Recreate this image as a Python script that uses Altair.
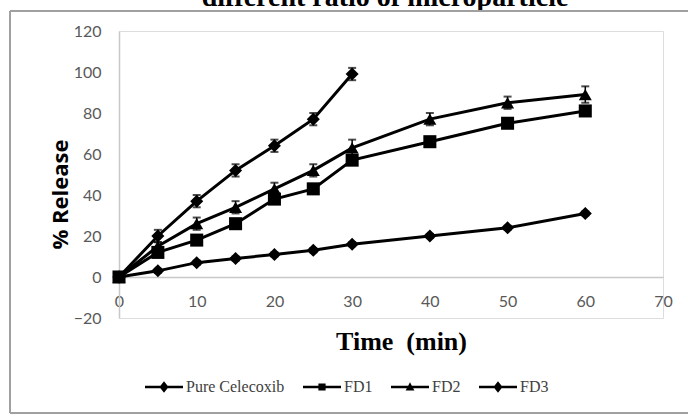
import altair as alt
import pandas as pd

# ---- data ----
series_names = ["Pure Celecoxib", "FD1", "FD2", "FD3"]
time_pure = [0, 5, 10, 15, 20, 25, 30]
time_fd = [0, 5, 10, 15, 20, 25, 30, 40, 50, 60]

pure_release = [0, 20, 37, 52, 64, 77, 99]
fd1_release = [0, 12, 18, 26, 38, 43, 57, 66, 75, 81]
fd2_release = [0, 15, 26, 34, 43, 52, 63, 77, 85, 89]
fd3_release = [0, 3, 7, 9, 11, 13, 16, 20, 24, 31]

pure_err = [0, 3, 3, 3, 3, 3, 3]
fd1_err = [0, 2, 2, 2, 2, 2, 2, 2, 2, 2]
fd2_err = [0, 2, 3, 3, 3, 3, 4, 3, 3, 4]
fd3_err = [0, 1, 1, 1, 1, 1, 1, 1, 1, 1]

marker_shapes = ["diamond", "square", "triangle-up", "diamond"]
x_ticks = [0, 10, 20, 30, 40, 50, 60, 70]
y_ticks = [-20, 0, 20, 40, 60, 80, 100, 120]
title_text = ["different ratio of microparticle"]

rows = []
for name, times, vals, errs, shp in zip(
    series_names,
    [time_pure, time_fd, time_fd, time_fd],
    [pure_release, fd1_release, fd2_release, fd3_release],
    [pure_err, fd1_err, fd2_err, fd3_err],
    marker_shapes,
):
    for t, v, e in zip(times, vals, errs):
        rows.append({"series": name, "time": t, "release": v,
                     "lo": v - e, "hi": v + e, "shape": shp})
df = pd.DataFrame(rows)

# legend symbols: line segment + marker in one path
legend_paths = [
    "M-1,-0.06L1,-0.06L1,0.06L-1,0.06Z M0,-0.3L0.24,0L0,0.3L-0.24,0Z",
    "M-1,-0.06L1,-0.06L1,0.06L-1,0.06Z M-0.19,-0.19L0.19,-0.19L0.19,0.19L-0.19,0.19Z",
    "M-1,-0.06L1,-0.06L1,0.06L-1,0.06Z M0,-0.25L0.23,0.18L-0.23,0.18Z",
    "M-1,-0.06L1,-0.06L1,0.06L-1,0.06Z M0,-0.3L0.24,0L0,0.3L-0.24,0Z",
]

X = alt.X("time:Q", scale=alt.Scale(domain=[0, 70], nice=False),
          axis=alt.Axis(values=x_ticks, title="Time\u00a0 (min)", offset=-41,
                        grid=False, ticks=False, domainColor="#c8c8c8",
                        domainWidth=1.5, labelColor="#595959", labelFont="Lato",
                        labelFontSize=16, labelPadding=16, labelFlush=False,
                        titleFont="Liberation Serif", titleFontSize=26,
                        titleFontWeight="bold", titleColor="black",
                        titleX=282, titleY=64, titleAnchor="middle",
                        titleAlign="center", titleBaseline="middle"))
Y = alt.Y("release:Q", scale=alt.Scale(domain=[-20, 120], nice=False),
          axis=alt.Axis(values=y_ticks, title="% Release", grid=False,
                        ticks=False, domainColor="#c8c8c8", domainWidth=1.5,
                        labelColor="#595959", labelFont="Lato", labelFontSize=16,
                        labelPadding=18, titleFont="Open Sans",
                        titleFontSize=22, titleFontWeight="bold",
                        titleColor="black", titleAngle=270, titleX=-59,
                        titleY=163, titleAlign="center",
                        titleBaseline="middle"))

base = alt.Chart(df)

lines = base.mark_line(color="black", strokeWidth=3).encode(
    x=X, y=Y, detail="series:N", order="time:Q")

err_rules = base.mark_rule(color="black", strokeWidth=1.5).encode(
    x="time:Q", y="lo:Q", y2="hi:Q")
err_top = base.mark_tick(color="black", orient="horizontal", size=8,
                         thickness=2).encode(x="time:Q", y="hi:Q")
err_bot = base.mark_tick(color="black", orient="horizontal", size=8,
                         thickness=2).encode(x="time:Q", y="lo:Q")

points = base.mark_point(filled=True, color="black", opacity=1, size=170).encode(
    x="time:Q", y="release:Q", shape=alt.Shape("shape:N", scale=None))

legend_layer = base.transform_filter("false").mark_point(
    filled=True, color="black", opacity=1).encode(
    x="time:Q", y="release:Q",
    shape=alt.Shape("series:N",
                    scale=alt.Scale(domain=series_names, range=legend_paths),
                    sort=series_names,
                    legend=alt.Legend(title=None, orient="none", direction="horizontal",
                                      legendX=26, legendY=337, symbolSize=1444,
                                      symbolFillColor="black", symbolStrokeWidth=0,
                                      labelFont="Liberation Serif", labelFontSize=16,
                                      labelColor="#404040", labelOffset=3,
                                      columnPadding=18, columns=4)))

frame_style = dict(color="#a0a0a0", strokeWidth=2)
frame_top = alt.Chart(pd.DataFrame({"a": [0]})).mark_rule(**frame_style).encode(
    x=alt.value(-109), x2=alt.value(569), y=alt.value(-20))
frame_left = alt.Chart(pd.DataFrame({"a": [1]})).mark_rule(**frame_style).encode(
    x=alt.value(-109), y=alt.value(-20), y2=alt.value(382))
frame_bottom = alt.Chart(pd.DataFrame({"a": [2]})).mark_rule(**frame_style).encode(
    x=alt.value(-109), x2=alt.value(569), y=alt.value(382))

title_mark = alt.Chart(pd.DataFrame({"t": title_text})).mark_text(
    font="Liberation Serif", fontSize=28, fontWeight="bold", color="black",
    align="center", baseline="alphabetic").encode(
    text="t:N", x=alt.value(266), y=alt.value(-25))

chart = alt.layer(title_mark, frame_top, frame_left, frame_bottom, lines, err_rules,
                  err_top, err_bot, points, legend_layer).properties(
    width=544, height=287,
    padding={"left": 119, "top": 31, "right": 25, "bottom": 98},
    autosize=alt.AutoSizeParams(type="none"),
).configure_view(stroke=None).configure(background="white")

chart.save("out.html", embed_options={"renderer": "svg", "actions": False})
